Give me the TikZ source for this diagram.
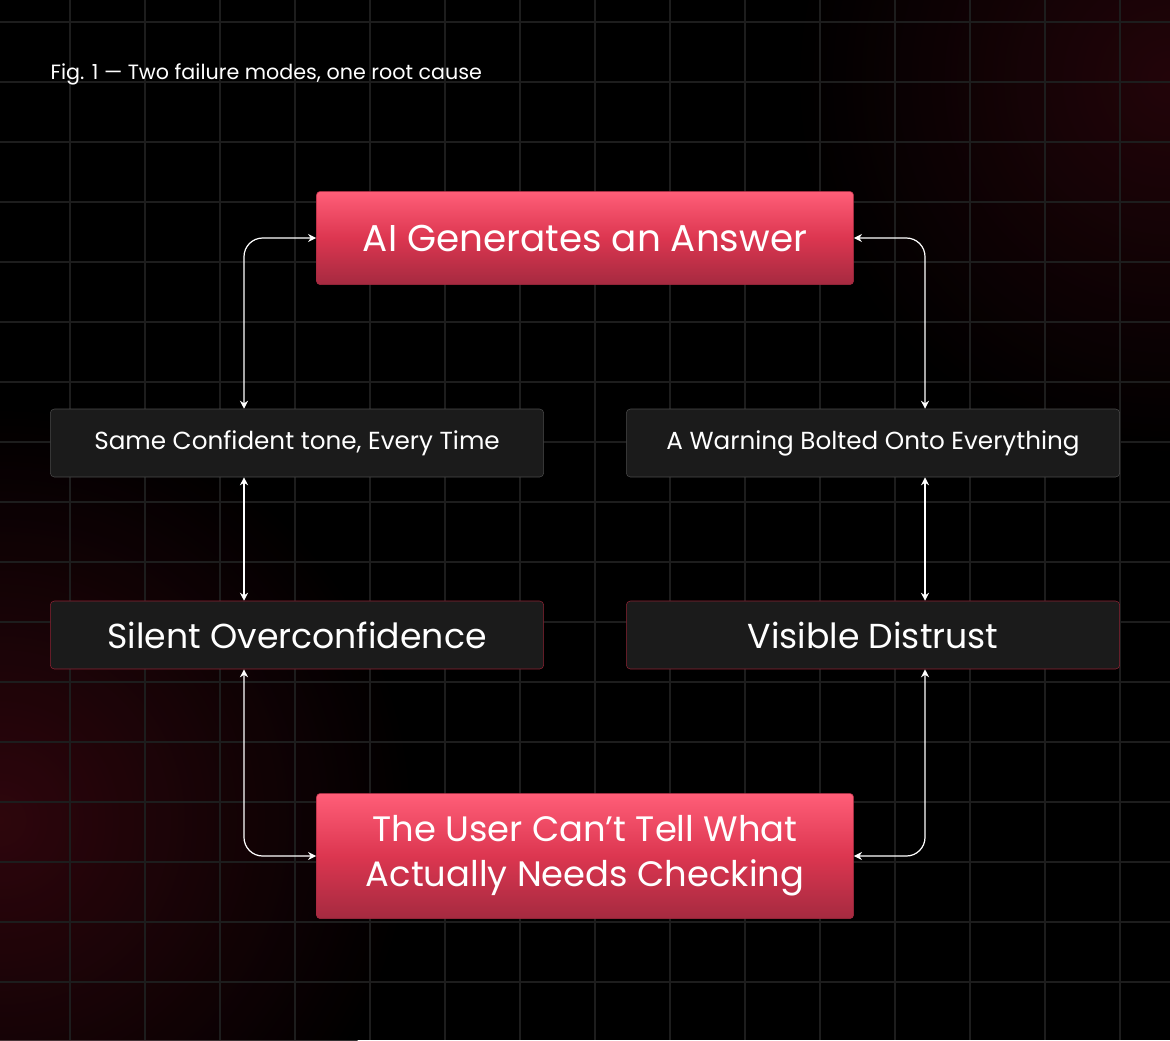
\documentclass[tikz,border=0pt]{standalone}
\usepackage{fontspec}
\setmainfont{Poppins}
\usetikzlibrary{arrows.meta, positioning}

\definecolor{bgglow}{HTML}{3A0810}
\definecolor{gridline}{HTML}{1D1D1D}
\definecolor{redtop}{HTML}{FF5E78}
\definecolor{redmid}{HTML}{DC3650}
\definecolor{redbot}{HTML}{A52A40}
\definecolor{darkbox}{HTML}{1B1B1B}
\definecolor{grayedge}{HTML}{4A4A4A}
\definecolor{rededge}{HTML}{8E2233}

\tikzset{
  root/.style={draw=redbot, rounded corners=3pt, top color=redtop, bottom color=redbot,
    middle color=redmid, text=white, align=center, font=\fontsize{28}{32}\selectfont,
    minimum width=403pt, inner sep=0pt},
  stage/.style={draw=grayedge, fill=darkbox, rounded corners=3pt, text=white,
    minimum width=370pt, minimum height=51pt, font=\fontsize{18.5}{22}\selectfont, inner sep=0pt},
  effect/.style={stage, draw=rededge, font=\fontsize{26}{30}\selectfont},
  link/.style={draw=white, line width=0.9pt, rounded corners=14pt,
    {Stealth[length=6pt,width=6pt]}-{Stealth[length=6pt,width=6pt]}}
}

\begin{document}
\begin{tikzpicture}[x=0.75pt, y=-0.75pt]

% background, glow and grid
\useasboundingbox (0,0) rectangle (1170,1040);
\clip (0,0) rectangle (1170,1040);
\fill[black] (0,0) rectangle (1170,1040);
\shade[inner color=bgglow, outer color=black, opacity=0.8] (0,820) circle (420);
\shade[inner color=bgglow, outer color=black, opacity=0.6] (1170,80) circle (380);
\foreach \gx in {70,145,...,1170} \draw[gridline, line width=0.8pt] (\gx,0) -- (\gx,1040);
\foreach \gy in {22,82,...,1040} \draw[gridline, line width=0.8pt] (0,\gy) -- (1170,\gy);

% caption
\node[anchor=west, text=white, font=\fontsize{15.5}{18}\selectfont] (caption) at (46,74) {Fig. 1 — Two failure modes, one root cause};

% nodes
\node[root, minimum height=70pt] (answer) at (585,238) {AI Generates an Answer};
\node[stage] (tone) at (297,443) {Same Confident tone, Every Time};
\node[stage] (warning) at (873,443) {A Warning Bolted Onto Everything};
\node[effect] (silent) at (297,635) {Silent Overconfidence};
\node[effect] (distrust) at (873,635) {Visible Distrust};
\node[root, minimum height=94pt, font=\fontsize{26.5}{32}\selectfont] (user) at (585,856) {The User Can't Tell What\\[2pt]Actually Needs Checking};

% connectors
\draw[link] (answer.west) -| (tone.north -| 244,0);
\draw[link] (answer.east) -| (warning.north -| 925,0);
\draw[link] (tone.south -| 244,0) -- (silent.north -| 244,0);
\draw[link] (warning.south -| 925,0) -- (distrust.north -| 925,0);
\draw[link] (silent.south -| 244,0) |- (user.west);
\draw[link] (distrust.south -| 925,0) |- (user.east);

\end{tikzpicture}
\end{document}
